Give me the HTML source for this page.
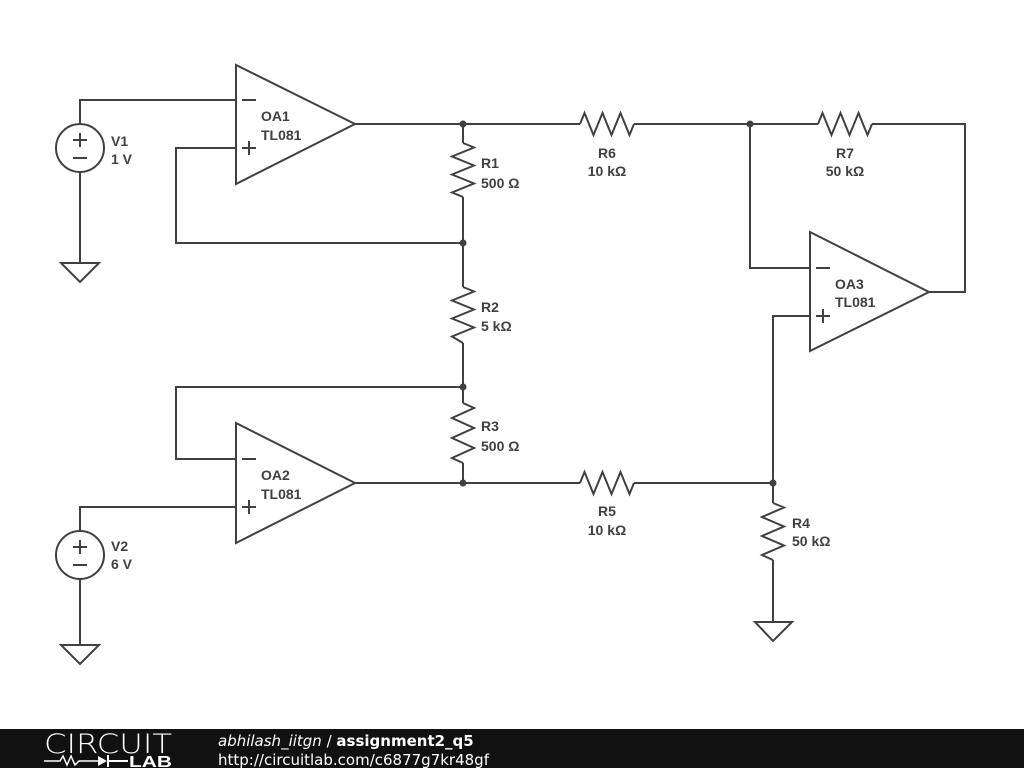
<!DOCTYPE html>
<html><head><meta charset="utf-8"><style>
body{margin:0;background:#fff;width:1024px;height:768px;overflow:hidden;font-family:"Liberation Sans",sans-serif}
svg{position:absolute;left:0;top:0}
</style></head><body>
<svg width="1024" height="768" xmlns="http://www.w3.org/2000/svg">
<g fill="none" stroke="#404040" stroke-width="2">
<polygon points="236,65 236,184 355,124"/>
<path d="M242 100h14M242 148h14M249 141v14"/>
<polygon points="236,423 236,543 355,483"/>
<path d="M242 459h14M242 507h14M249 500v14"/>
<polygon points="810,232 810,351 929,292"/>
<path d="M816 268h14M816 316h14M823 309v14"/>
<circle cx="80" cy="148" r="24"/>
<path d="M73 140h14M80 133v14M73 158h14"/>
<path d="M80 124V100H236M80 172V263"/>
<polygon points="61,263 99,263 80,282"/>
<circle cx="80" cy="555" r="24"/>
<path d="M73 547h14M80 540v14M73 565h14"/>
<path d="M80 531V507H236M80 579V645"/>
<polygon points="61,645 99,645 80,664"/>
<path d="M355 124H580M634 124H818M872 124H965V292H929"/>
<path d="M750 124V268H810"/>
<path d="M236 148H176V243H463"/>
<path d="M463 124V143M463 197V243V287M463 343V403M463 463V483"/>
<path d="M463 387H176V459H236"/>
<path d="M355 483H580M634 483H773V503M773 560V622M773 483V316H810"/>
<polygon points="755,622 792,622 773,641"/>
<path d="M580 124L584.5 113L593.5 135L602.5 113L611.5 135L620.5 113L629.5 135L634 124"/>
<path d="M818 124L822.5 113L831.5 135L840.5 113L849.5 135L858.5 113L867.5 135L872 124"/>
<path d="M580 483L584.5 472L593.5 494L602.5 472L611.5 494L620.5 472L629.5 494L634 483"/>
<path d="M463 143L474 147.5L452 156.5L474 165.5L452 174.5L474 183.5L452 192.5L463 197"/>
<path d="M463 287L474 291.5L452 300.5L474 309.5L452 318.5L474 327.5L452 336.5L463 343"/>
<path d="M463 403L474 408L452 418L474 428L452 438L474 448L452 458L463 463"/>
<path d="M773 503L784 507.5L762 517L784 526.5L762 536L784 545.5L762 555L773 560"/>
</g>
<g fill="#404040">
<circle cx="463" cy="124" r="3.5"/><circle cx="463" cy="243" r="3.5"/>
<circle cx="463" cy="387" r="3.5"/><circle cx="463" cy="483" r="3.5"/>
<circle cx="750" cy="124" r="3.5"/><circle cx="773" cy="483" r="3.5"/>
</g>
<g fill="#404040" font-size="14" font-weight="bold" font-family="Liberation Sans, DejaVu Sans, sans-serif">
<text x="261" y="121">OA1</text><text x="261" y="140">TL081</text>
<text x="261" y="480">OA2</text><text x="261" y="499">TL081</text>
<text x="835" y="289">OA3</text><text x="835" y="307">TL081</text>
<text x="111" y="146">V1</text><text x="111" y="164">1 V</text>
<text x="111" y="551">V2</text><text x="111" y="569">6 V</text>
<text x="481" y="168">R1</text><text x="481" y="188">500 Ω</text>
<text x="481" y="312">R2</text><text x="481" y="331">5 kΩ</text>
<text x="481" y="431">R3</text><text x="481" y="451">500 Ω</text>
<text x="607" y="158" text-anchor="middle">R6</text><text x="607" y="176" text-anchor="middle">10 kΩ</text>
<text x="845" y="158" text-anchor="middle">R7</text><text x="845" y="176" text-anchor="middle">50 kΩ</text>
<text x="607" y="516" text-anchor="middle">R5</text><text x="607" y="535" text-anchor="middle">10 kΩ</text>
<text x="792" y="528">R4</text><text x="792" y="546">50 kΩ</text>
</g>
<rect x="0" y="729" width="1024" height="39" fill="#111"/>
<text x="44" y="753" fill="#fff" font-size="27" font-family="DejaVu Sans, sans-serif" font-weight="200" textLength="128" lengthAdjust="spacingAndGlyphs">CIRCUIT</text>
<path d="M44 761H60L63 756L67 765L71 756L75 765L79 761H98" stroke="#fff" stroke-width="1.5" fill="none"/>
<polygon points="98,756 98,766 107,761" fill="#fff"/><path d="M108 755V767M108 761H128" stroke="#fff" stroke-width="2"/>
<text x="129" y="767" fill="#fff" font-size="16" font-weight="bold" font-family="Liberation Sans, sans-serif" textLength="43" lengthAdjust="spacingAndGlyphs">LAB</text>
<text x="218" y="746" fill="#fff" font-size="15" font-family="DejaVu Sans, sans-serif"><tspan font-style="italic">abhilash_iitgn</tspan> / <tspan font-weight="bold">assignment2_q5</tspan></text>
<text x="218" y="765" fill="#fff" font-size="15" font-family="DejaVu Sans, sans-serif">http://circuitlab.com/c6877g7kr48gf</text>
</svg>
</body></html>
